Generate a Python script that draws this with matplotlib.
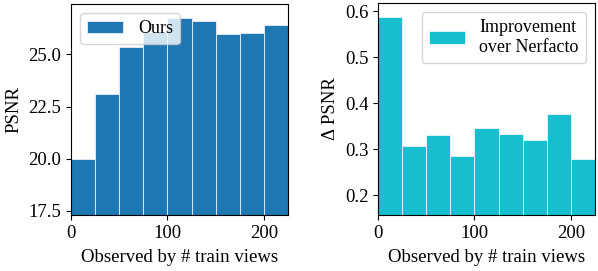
import numpy as np
import matplotlib
matplotlib.use('Agg')
from matplotlib import pyplot as plt

plt.rcParams['font.family'] = ['Liberation Serif', 'DejaVu Serif']
plt.rcParams['font.size'] = 13.5
plt.rcParams['legend.fontsize'] = 13

bin_edges = [0, 25, 50, 75, 100, 125, 150, 175, 200]
bin_width = 25
psnr_ours = [20.0, 23.08, 25.37, 26.1, 26.76, 26.59, 25.98, 26.03, 26.41]
delta_psnr = [0.587, 0.307, 0.332, 0.285, 0.346, 0.334, 0.321, 0.376, 0.278]

fig = plt.figure(figsize=(5.98, 2.71), dpi=100)
ax1 = fig.add_axes([71 / 598, 56 / 271, 217 / 598, 211 / 271])
ax2 = fig.add_axes([378 / 598, 56 / 271, 217 / 598, 212 / 271])

ax1.bar(bin_edges, psnr_ours, width=bin_width, align='edge',
        color='tab:blue', edgecolor='#e8eef5', linewidth=0.6, label='Ours')
ax1.set_xlim(0, 225)
ax1.set_ylim(17.3, 27.42)
ax1.set_yticks([17.5, 20.0, 22.5, 25.0])
ax1.set_ylabel('PSNR')
ax1.set_xlabel('Observed by # train views', labelpad=5)
ax1.legend(loc='upper left')

ax2.bar(bin_edges, delta_psnr, width=bin_width, align='edge',
        color='tab:cyan', edgecolor='#e8f7f9', linewidth=0.6,
        label='Improvement\nover Nerfacto')
ax2.set_xlim(0, 225)
ax2.set_ylim(0.157, 0.618)
ax2.set_yticks([0.2, 0.3, 0.4, 0.5, 0.6])
ax2.set_ylabel('Δ PSNR')
ax2.set_xlabel('Observed by # train views', labelpad=5)
ax2.legend(loc='upper right')

plt.savefig('out.png')
